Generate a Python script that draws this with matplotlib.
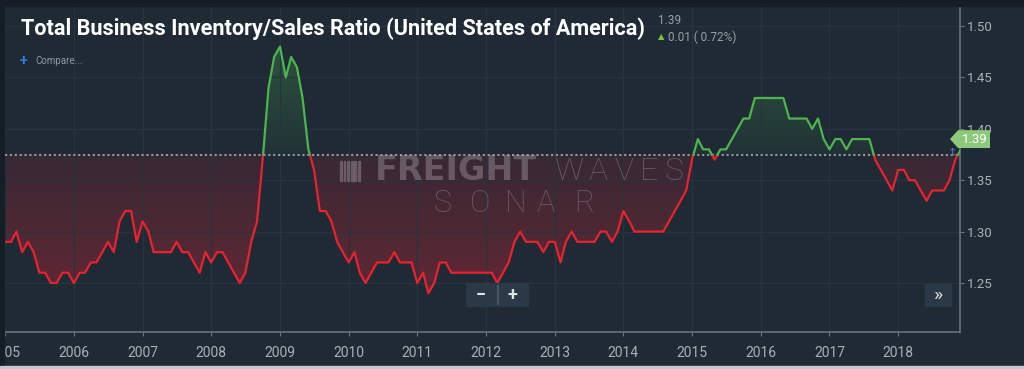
import numpy as np
import pandas as pd
import matplotlib
matplotlib.use('Agg')
import matplotlib.pyplot as plt
import matplotlib.dates as mdates
import matplotlib.transforms as mtransforms
from matplotlib.path import Path
from matplotlib.patches import PathPatch, Rectangle, Polygon

# monthly inventory/sales ratio
start_month = '2005-01-01'
ratio = [
    1.29, 1.29, 1.30, 1.28, 1.29, 1.28, 1.26, 1.26, 1.25, 1.25, 1.26, 1.26,  # 2005
    1.25, 1.26, 1.26, 1.27, 1.27, 1.28, 1.29, 1.28, 1.31, 1.32, 1.32, 1.29,  # 2006
    1.31, 1.30, 1.28, 1.28, 1.28, 1.28, 1.29, 1.28, 1.28, 1.27, 1.26, 1.28,  # 2007
    1.27, 1.28, 1.28, 1.27, 1.26, 1.25, 1.26, 1.29, 1.31, 1.37, 1.44, 1.47,  # 2008
    1.48, 1.45, 1.47, 1.46, 1.43, 1.38, 1.36, 1.32, 1.32, 1.31, 1.29, 1.28,  # 2009
    1.27, 1.28, 1.26, 1.25, 1.26, 1.27, 1.27, 1.27, 1.28, 1.27, 1.27, 1.27,  # 2010
    1.25, 1.26, 1.24, 1.25, 1.27, 1.27, 1.26, 1.26, 1.26, 1.26, 1.26, 1.26,  # 2011
    1.26, 1.26, 1.25, 1.26, 1.27, 1.29, 1.30, 1.29, 1.29, 1.29, 1.28, 1.29,  # 2012
    1.29, 1.27, 1.29, 1.30, 1.29, 1.29, 1.29, 1.29, 1.30, 1.30, 1.29, 1.30,  # 2013
    1.32, 1.31, 1.30, 1.30, 1.30, 1.30, 1.30, 1.30, 1.31, 1.32, 1.33, 1.34,  # 2014
    1.37, 1.39, 1.38, 1.38, 1.37, 1.38, 1.38, 1.39, 1.40, 1.41, 1.41, 1.43,  # 2015
    1.43, 1.43, 1.43, 1.43, 1.43, 1.41, 1.41, 1.41, 1.41, 1.40, 1.41, 1.39,  # 2016
    1.38, 1.39, 1.39, 1.38, 1.39, 1.39, 1.39, 1.39, 1.37, 1.36, 1.35, 1.34,  # 2017
    1.36, 1.36, 1.35, 1.35, 1.34, 1.33, 1.34, 1.34, 1.34, 1.35, 1.37, 1.38,  # 2018
]
baseline = 1.375
y_ticks = [1.25, 1.30, 1.35, 1.40, 1.45, 1.50]
last_value = '1.39'
change_text = '0.01 ( 0.72%)'
title = 'Total Business Inventory/Sales Ratio (United States of America)'

BG = '#1f2a35'
RED = '#e8232f'
GREEN = '#4cb54f'
TXT = '#a9b1b8'
WM = '#b4aab4'

plt.rcParams['font.family'] = ['Roboto', 'DejaVu Sans']

W, H = 1024, 369
fig = plt.figure(figsize=(W / 100, H / 100), dpi=100, facecolor=BG)


def px(x, y):
    return x / W, 1 - y / H


ax = fig.add_axes([4.5 / W, 1 - 332 / H, (960 - 4.5) / W, (332 - 6) / H])
ax.set_facecolor(BG)

x = mdates.date2num(pd.date_range(start_month, periods=len(ratio), freq='MS'))
y = np.array(ratio)

# insert the baseline crossings so red/green segments meet
xs, ys = [x[0]], [y[0]]
for i in range(1, len(y)):
    a, b = y[i - 1] - baseline, y[i] - baseline
    if a * b < 0:
        t = a / (a - b)
        xs.append(x[i - 1] + t * (x[i] - x[i - 1]))
        ys.append(baseline)
    xs.append(x[i])
    ys.append(y[i])
xs, ys = np.array(xs), np.array(ys)

ylo, yhi = 1.2023, 1.5195


def gradient_fill(mask, lo, hi, rgb, a_near, a_far, far_val):
    poly = ax.fill_between(xs, ys, baseline, where=mask, interpolate=True,
                           facecolor='none', edgecolor='none')
    path = Path.make_compound_path(*poly.get_paths())
    poly.remove()
    patch = PathPatch(path, transform=ax.transData, facecolor='none', edgecolor='none')
    ax.add_patch(patch)
    vals = np.linspace(lo, hi, 300)
    alpha = a_near + np.abs(vals - baseline) / abs(far_val - baseline) * (a_far - a_near)
    arr = np.zeros((300, 1, 4))
    arr[..., :3] = matplotlib.colors.to_rgb(rgb)
    arr[..., 3] = np.clip(alpha, 0, 1)[:, None]
    im = ax.imshow(arr, extent=[xs[0], xs[-1], lo, hi], origin='lower',
                   aspect='auto', interpolation='bilinear', zorder=1)
    im.set_clip_path(patch)


gradient_fill(ys <= baseline, ylo, baseline, RED, 0.12, 0.33, 1.24)
gradient_fill(ys >= baseline, baseline, yhi, GREEN, 0.06, 0.30, 1.48)

ax.plot(xs, np.where(ys <= baseline, ys, np.nan), color=RED, lw=1.6, zorder=3)
ax.plot(xs, np.where(ys >= baseline, ys, np.nan), color=GREEN, lw=1.6, zorder=3)
ax.axhline(baseline, color='#9ea5ab', lw=1.3, ls=(0, (1.2, 1.5)), zorder=2)

ax.set_xlim(mdates.datestr2num('2004-12-28'), mdates.datestr2num('2018-11-26'))
ax.set_ylim(ylo, yhi)

ax.xaxis.set_major_locator(mdates.YearLocator())
ax.xaxis.set_major_formatter(mdates.DateFormatter('%Y'))
ax.set_yticks(y_ticks)
ax.set_yticklabels([f'{v:.2f}' for v in y_ticks])
ax.yaxis.tick_right()
ax.tick_params(axis='x', colors='#6b7680', labelcolor=TXT, labelsize=10, length=3, pad=7)
ax.tick_params(axis='y', colors='#6b7680', labelcolor=TXT, labelsize=9.5, length=3, pad=2)
ax.grid(True, color='#27343f', lw=0.9, zorder=0)
for s in ['left', 'top']:
    ax.spines[s].set_visible(False)
for s in ['right', 'bottom']:
    ax.spines[s].set_color('#69737c')
    ax.spines[s].set_linewidth(1.2)

# watermark
ax.text(*px(456, 171), 'FREIGHT', transform=fig.transFigure, ha='center', va='center',
        fontsize=24, fontweight='bold', family='DejaVu Sans', color=WM, alpha=0.38, zorder=2)
for cx, ch in zip([569, 598, 624, 649, 674], 'WAVES'):
    ax.text(*px(cx, 171), ch, transform=fig.transFigure, ha='center', va='center',
            fontsize=23, fontweight='light', color=WM, alpha=0.38, zorder=2)
for cx, ch in zip([443, 480, 516, 546, 584], 'SONAR'):
    ax.text(*px(cx, 203), ch, transform=fig.transFigure, ha='center', va='center',
            fontsize=22, fontweight='light', color=WM, alpha=0.38, zorder=2)
for k in range(6):
    fig.patches.append(Rectangle(px(340 + k * 3.6, 181), 1.8 / W, 20 / H,
                                 transform=fig.transFigure, color=WM, alpha=0.3, zorder=2))

# frame strips
fig.patches.append(Rectangle((0, 1 - 6 / H), 1, 6 / H, transform=fig.transFigure,
                             color='#151d26', zorder=0))
fig.patches.append(Rectangle((0, 0), 4 / W, 1, transform=fig.transFigure,
                             color='#151d26', zorder=0))
fig.patches.append(Rectangle((0, 0), 1, 3 / H, transform=fig.transFigure,
                             color='#c4c8cc', zorder=5))

# title block
fig.text(*px(21, 35), title, ha='left', va='baseline', fontsize=15.6, fontweight='bold',
         color='white')
fig.text(*px(658, 21), last_value, ha='left', va='center', fontsize=8.5, color='#98a1a9')
fig.text(*px(658, 37), '▲', ha='left', va='center', fontsize=6, color='#7cc242',
         family='DejaVu Sans')
fig.text(*px(668, 37), change_text, ha='left', va='center', fontsize=8.5, color='#98a1a9')
fig.text(*px(20, 61), '+', ha='left', va='center', fontsize=10, fontweight='bold', color='#2f7fe0')
fig.text(*px(35, 61), 'Compare...', ha='left', va='center', fontsize=7, color='#8e98a2')

# zoom buttons
fig.patches.append(Rectangle(px(466, 306), 62 / W, 23 / H, transform=fig.transFigure,
                             color='#2b3946', zorder=4))
fig.patches.append(Rectangle(px(497, 304), 1 / W, 19 / H, transform=fig.transFigure,
                             color='#46535f', zorder=5))
fig.text(*px(481, 295), '−', ha='center', va='center', fontsize=13, fontweight='bold',
         color='#dfe3e6', zorder=6)
fig.text(*px(512, 295), '+', ha='center', va='center', fontsize=13, fontweight='bold',
         color='#dfe3e6', zorder=6)
fig.patches.append(Rectangle(px(925, 306), 26 / W, 22 / H, transform=fig.transFigure,
                             color='#2b3946', zorder=4))
fig.text(*px(938, 295), '»', ha='center', va='center', fontsize=14, color='#dfe3e6', zorder=6)

# last value tag on the right axis
tr = mtransforms.blended_transform_factory(fig.transFigure, ax.transData)
hh = 0.0087
tag = Polygon([(950 / W, 1.39), (958 / W, 1.39 + hh), (990 / W, 1.39 + hh),
               (990 / W, 1.39 - hh), (958 / W, 1.39 - hh)], closed=True,
              transform=tr, facecolor='#8cc97a', edgecolor='none', clip_on=False, zorder=6)
ax.add_patch(tag)
ax.text(975 / W, 1.39, last_value, transform=tr, ha='center', va='center', fontsize=9.5,
        color='white', clip_on=False, zorder=7)
ax.text(952 / W, baseline + 0.002, '↕', transform=tr, ha='center', va='center', fontsize=8,
        color='#5a7fb5', family='DejaVu Sans', clip_on=False, zorder=7)

fig.savefig('out.png', dpi=100, facecolor=BG)
